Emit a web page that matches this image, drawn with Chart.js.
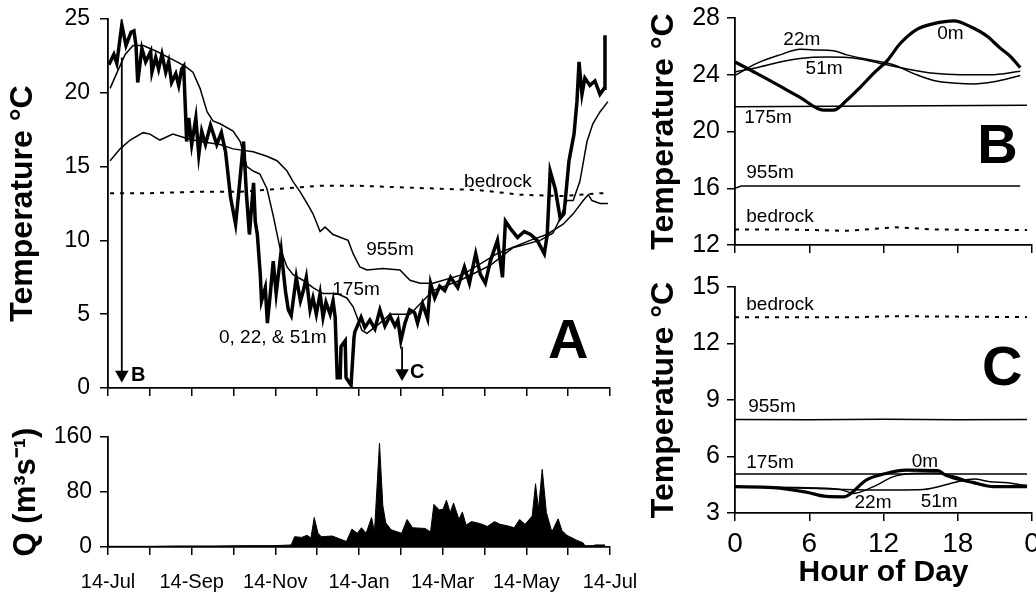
<!DOCTYPE html>
<html>
<head>
<meta charset="utf-8">
<script src="https://cdn.jsdelivr.net/npm/chart.js@4.4.1/dist/chart.umd.min.js"></script>
<style>
  body { margin: 0; background: #fff; width: 1036px; height: 597px; position: relative; overflow: hidden; }
  canvas { position: absolute; }
</style>
</head>
<body>
<canvas id="cA" width="640" height="400" style="left:0px;top:0px"></canvas>
<canvas id="cQ" width="640" height="177" style="left:0px;top:420px"></canvas>
<canvas id="cB" width="396" height="270" style="left:640px;top:0px"></canvas>
<canvas id="cC" width="396" height="327" style="left:640px;top:270px"></canvas>
<script>
// x in panel A and Q = months since 14-Jul
const dateLabels = ['14-Jul', '', '14-Sep', '', '14-Nov', '', '14-Jan', '', '14-Mar', '', '14-May', '', '14-Jul'];

// 0, 22 & 51m (thick line)
const shallowX = [0.02,0.14,0.21,0.33,0.43,0.55,0.62,0.67,0.71,0.81,0.90,1.02,1.05,1.14,1.21,1.29,1.38,1.45,1.52,1.62,1.69,1.76,1.81,1.88,1.93,2.00,2.10,2.17,2.24,2.33,2.45,2.52,2.60,2.71,2.81,2.93,3.05,3.12,3.24,3.31,3.38,3.43,3.48,3.52,3.57,3.64,3.67,3.76,3.81,3.88,3.95,4.02,4.14,4.24,4.31,4.38,4.50,4.60,4.67,4.74,4.83,4.90,4.98,5.07,5.14,5.21,5.31,5.38,5.43,5.48,5.55,5.57,5.67,5.69,5.81,5.88,5.90,6.05,6.14,6.26,6.38,6.50,6.62,6.74,6.86,6.93,7.00,7.10,7.21,7.33,7.40,7.52,7.64,7.71,7.81,7.93,8.05,8.19,8.36,8.52,8.64,8.79,8.90,9.02,9.14,9.31,9.43,9.50,9.62,9.79,9.95,10.10,10.26,10.43,10.50,10.57,10.69,10.81,10.90,11.02,11.14,11.21,11.26,11.33,11.40,11.52,11.64,11.76,11.86,11.88];
const shallowY = [21.9,22.6,22.0,24.6,23.2,24.1,24.2,23.2,20.7,23.0,22.1,22.8,21.4,22.4,21.6,22.6,21.4,22.1,20.7,21.3,20.5,21.6,21.8,16.7,18.3,16.5,18.3,15.8,17.4,16.5,17.8,17.2,16.5,17.3,16.0,12.9,11.1,13.1,16.7,13.1,10.4,12.2,13.9,11.3,10.4,7.7,5.9,6.8,4.4,6.4,8.6,6.4,9.3,6.6,5.3,4.9,7.5,5.9,6.6,7.5,5.3,6.1,5.0,6.4,4.8,5.8,5.0,5.9,4.8,0.7,0.7,2.8,3.2,0.7,0.2,3.4,3.8,4.8,4.1,4.6,4.0,5.3,4.2,4.9,4.2,4.6,3.2,4.4,5.3,5.1,4.4,5.7,4.7,7.1,6.1,6.9,6.6,7.5,6.8,8.2,7.1,9.1,7.7,7.1,8.6,10.0,7.5,11.3,10.8,10.2,10.6,10.4,10.0,9.1,10.4,14.7,13.5,11.5,11.8,15.4,17.2,19.4,22.1,19.9,21.0,20.5,20.8,19.9,20.3,23.9];

const m175X = [0.05,0.22,0.41,0.60,0.84,1.17,1.65,1.84,2.03,2.20,2.37,2.51,2.68,2.99,3.16,3.32,3.47,3.63,3.80,3.94,4.11,4.28,4.42,4.66,4.90,5.14,5.47,5.71,5.86,5.98,6.07,6.19,6.50,6.74,7.22,7.77,8.42,9.13,9.68,10.33,10.64,10.81,10.97,11.12,11.28,11.45,11.59,11.76,11.95];
const m175Y = [20.3,21.4,22.6,23.2,23.2,22.8,22.1,21.8,21.4,20.3,18.7,18.1,17.9,17.4,16.7,15.0,14.7,14.5,13.5,11.8,9.5,8.2,7.7,7.3,6.8,6.4,6.4,6.1,5.5,4.6,3.9,3.7,4.4,5.0,5.0,6.6,7.3,8.3,9.5,10.0,10.5,11.5,12.7,12.7,14.0,16.7,17.9,18.7,19.4];

const m955X = [0.05,0.29,0.53,0.84,1.00,1.24,1.55,1.89,2.20,2.68,2.99,3.47,3.80,4.04,4.28,4.42,4.59,4.76,4.90,5.07,5.19,5.38,5.74,5.86,6.02,6.19,6.57,6.98,7.22,7.46,7.77,8.49,9.30,10.09,10.49,10.88,11.12,11.36,11.48,11.57,11.76,11.95];
const m955Y = [15.4,16.2,16.8,17.3,17.2,16.8,17.2,16.9,16.7,16.5,16.2,16.0,15.7,15.4,14.7,14.0,13.3,12.5,11.8,10.6,10.9,10.4,10.0,9.1,8.2,8.0,8.1,8.0,7.3,7.1,7.1,7.7,9.1,10.0,10.4,11.1,11.8,12.7,13.1,12.7,12.5,12.5];

const bedX = [0.05,1.0,2.2,3.16,4.11,5.07,6.02,6.98,7.94,8.89,9.85,10.81,11.76,11.95];
const bedY = [13.2,13.2,13.3,13.3,13.5,13.7,13.7,13.6,13.5,13.4,13.1,13.0,13.2,13.2];

// arrows marking the days shown in B and C
const arrowBX = [0.33, 0.33], arrowBY = [22.4, 0.9];
const arrowCX = [7.03, 7.03], arrowCY = [2.8, 1.0];

// discharge
const qX = [0,1.0,1.7,2.5,3.3,3.99,4.38,4.46,4.63,4.76,4.85,4.93,5.02,5.10,5.36,5.53,5.70,5.83,5.96,6.06,6.17,6.30,6.37,6.49,6.57,6.64,6.77,7.02,7.15,7.28,7.58,7.71,7.79,7.92,8.01,8.09,8.18,8.26,8.39,8.47,8.56,8.69,8.90,9.07,9.24,9.37,9.54,9.71,9.84,9.97,10.14,10.22,10.29,10.38,10.48,10.61,10.76,10.85,10.97,11.2,11.36,11.40,11.6,11.64,11.88];
const qY = [1,1,1.5,1.5,2,2,3,15,14,17,13,43,20,15,16,12,8,26,20,28,20,43,22,151,60,35,25,20,40,28,27,22,62,54,55,68,50,64,40,51,32,37,34,30,37,33,31,28,40,33,45,92,55,113,50,22,41,24,17,10,6,2,2,3,3];

// B: diel cycle, summer (hour of day)
const b0X = [0,1.75,3.64,5.26,7.15,7.96,9.03,10.1,11.2,12.3,13.35,14.7,16.05,17.7,19.0,20.4,21.4,22.25,23.05];
const b0Y = [24.9,24.1,23.2,22.4,21.5,21.5,22.2,23.1,24.1,25.0,26.2,27.2,27.6,27.8,27.4,26.7,25.9,25.3,24.5];
const b22X = [0,1.75,3.64,5.26,6.34,7.96,9.03,11.2,12.8,14.4,16.05,17.9,19.3,20.9,23.05];
const b22Y = [23.95,24.8,25.4,25.8,25.75,25.7,25.4,25.0,24.7,24.1,23.6,23.4,23.35,23.5,23.95];
const b51X = [0,1.75,3.64,5.26,7.42,9.84,11.73,13.89,16.05,18.2,20.6,23.05];
const b51Y = [24.2,24.5,24.9,25.15,25.25,25.15,24.8,24.4,24.1,24.0,24.0,24.25];
const b175X = [0,12,23.6], b175Y = [21.75,21.8,21.85];
const b955X = [0,0.5,23.05], b955Y = [16.0,16.15,16.15];
const bBedX = [0,3.5,6.5,9,13,16,20,23.6], bBedY = [13.1,13.1,13.05,13.0,13.25,13.1,13.05,13.05];

// C: diel cycle, winter
const c0X = [0,3.1,5.8,7.4,8.8,10.6,12.2,13.8,16.4,17.0,19.3,20.9,23.6];
const c0Y = [4.4,4.35,4.1,3.88,3.86,4.75,5.1,5.28,5.25,5.02,4.61,4.4,4.4];
const c22X = [0,5,8.5,9.6,11.2,12.8,14.4,16.05,17.9,19.3,20.9,23.6];
const c22Y = [4.4,4.35,4.25,4.04,4.4,4.93,5.1,5.13,4.93,4.57,4.43,4.48];
const c51X = [0,5.8,11.2,15.2,17.9,19.3,20.6,22.0,23.6];
const c51Y = [4.4,4.31,4.22,4.25,4.65,4.8,4.66,4.6,4.45];
const c175X = [0,23.6], c175Y = [5.07,5.07];
const c955X = [0,6,12,18,23.6], c955Y = [7.97,7.95,7.98,7.95,7.97];
const cBedX = [0,10,13,23.6], cBedY = [13.4,13.4,13.45,13.4];

const FONT = '"Liberation Sans", Arial, Helvetica, sans-serif';
Chart.defaults.font.family = FONT;
Chart.defaults.color = '#000';

function pts(xs, ys) { return xs.map((x, i) => ({ x: x, y: ys[i] })); }

function line(xs, ys, w, extra) {
  return Object.assign({ data: pts(xs, ys), borderColor: '#000', backgroundColor: '#000', borderWidth: w,
    pointRadius: 0, fill: false, tension: 0 }, extra || {});
}
function arrow(xs, ys) {
  return line(xs, ys, 1.8, { pointRadius: [0, 6], pointStyle: 'triangle', rotation: 180,
    pointBackgroundColor: '#000', pointBorderColor: '#000' });
}

function axis(o) {
  return {
    type: 'linear', position: o.pos, min: o.min, max: o.max,
    ticks: { stepSize: o.step, autoSkip: false, maxRotation: 0, padding: o.pad, color: '#000',
      font: { size: o.size }, callback: o.cb || (v => v) },
    grid: { drawOnChartArea: false, drawTicks: true, tickLength: 8, color: '#000', lineWidth: 1.5 },
    border: { display: true, color: '#000', width: 1.8 },
    title: o.title ? { display: true, text: o.title, color: '#000', font: { size: o.tsize, weight: 'bold' }, padding: o.tpad }
                   : { display: false },
    afterFit: s => {
      if (o.pos === 'left') s.width = o.fit; else s.height = o.fit;
      s.paddingLeft = 0; s.paddingRight = 0; s.paddingTop = 0; s.paddingBottom = 0;
    }
  };
}

// free text labels drawn in data units
const notes = {
  id: 'notes',
  afterDatasetsDraw(chart, args, opts) {
    const ctx = chart.ctx, xs = chart.scales.x, ys = chart.scales.y;
    ctx.save();
    ctx.fillStyle = '#000';
    ctx.textAlign = 'center';
    ctx.textBaseline = 'middle';
    (opts.items || []).forEach(n => {
      ctx.font = (n.bold ? 'bold ' : '') + n.size + 'px ' + FONT;
      ctx.fillText(n.text, xs.getPixelForValue(n.x), ys.getPixelForValue(n.y));
    });
    ctx.restore();
  }
};

function base(pad, items) {
  return {
    responsive: false, animation: false, events: [],
    layout: { padding: pad },
    plugins: { legend: { display: false }, tooltip: { enabled: false }, notes: { items: items } }
  };
}

// ---- A
const optA = base({ top: 19, right: 30, left: 0, bottom: 0 }, [
  { text: '955m', x: 6.74, y: 9.35, size: 19 },
  { text: '175m', x: 5.93, y: 6.64, size: 19 },
  { text: '0, 22, & 51m', x: 3.94, y: 3.39, size: 19 },
  { text: 'bedrock', x: 9.32, y: 13.96, size: 19 },
  { text: 'A', x: 11.0, y: 3.05, size: 56, bold: true },
  { text: 'B', x: 0.72, y: 0.88, size: 20, bold: true },
  { text: 'C', x: 7.39, y: 1.08, size: 20, bold: true }
]);
optA.scales = {
  x: axis({ pos: 'bottom', min: 0, max: 12, step: 1, pad: 0, size: 12, fit: 12, cb: () => '' }),
  y: axis({ pos: 'left', min: 0, max: 25, step: 5, pad: 10, size: 23, fit: 108,
            title: 'Temperature °C', tsize: 32, tpad: { top: 4, bottom: 0 } })
};
new Chart(document.getElementById('cA'), {
  type: 'line',
  data: { datasets: [
    line(bedX, bedY, 2, { borderDash: [4, 6] }),
    line(m955X, m955Y, 1.5),
    line(m175X, m175Y, 1.5),
    line(shallowX, shallowY, 3.5),
    arrow(arrowBX, arrowBY),
    arrow(arrowCX, arrowCY)
  ] },
  options: optA,
  plugins: [notes]
});

// ---- Q
const optQ = base({ top: 17, right: 30, left: 0, bottom: 0 }, []);
optQ.scales = {
  x: axis({ pos: 'bottom', min: 0, max: 12, step: 1, pad: 15, size: 20, fit: 50,
            cb: v => dateLabels[Math.round(v)] }),
  y: axis({ pos: 'left', min: 0, max: 160, step: 80, pad: 8, size: 23, fit: 108,
            title: 'Q (m³s⁻¹)', tsize: 31, tpad: { top: 8, bottom: 0 } })
};
new Chart(document.getElementById('cQ'), {
  type: 'line',
  data: { datasets: [ line(qX, qY, 1, { fill: 'origin' }) ] },
  options: optQ,
  plugins: [notes]
});

// ---- B
const optB = base({ top: 18, right: 4, left: 0, bottom: 0 }, [
  { text: '22m', x: 5.4, y: 26.45, size: 19 },
  { text: '51m', x: 7.2, y: 24.4, size: 19 },
  { text: '0m', x: 17.4, y: 26.9, size: 19 },
  { text: '175m', x: 2.67, y: 20.95, size: 19 },
  { text: '955m', x: 2.83, y: 17.1, size: 19 },
  { text: 'bedrock', x: 3.64, y: 14.0, size: 19 },
  { text: 'B', x: 21.2, y: 18.9, size: 56, bold: true }
]);
optB.scales = {
  x: axis({ pos: 'bottom', min: 0, max: 24, step: 6, pad: 0, size: 12, fit: 25, cb: () => '' }),
  y: axis({ pos: 'left', min: 12, max: 28, step: 4, pad: 7, size: 25, fit: 95,
            title: 'Temperature °C', tsize: 32, tpad: { top: 5, bottom: 0 } })
};
new Chart(document.getElementById('cB'), {
  type: 'line',
  data: { datasets: [
    line(bBedX, bBedY, 2, { borderDash: [4, 6] }),
    line(b955X, b955Y, 1.5),
    line(b175X, b175Y, 1.5),
    line(b22X, b22Y, 1.5, { cubicInterpolationMode: 'monotone' }),
    line(b51X, b51Y, 1.5, { cubicInterpolationMode: 'monotone' }),
    line(b0X, b0Y, 3.2, { cubicInterpolationMode: 'monotone' })
  ] },
  options: optB,
  plugins: [notes]
});

// ---- C
const optC = base({ top: 17, right: 4, left: 0, bottom: 0 }, [
  { text: 'bedrock', x: 3.64, y: 14.04, size: 19 },
  { text: '955m', x: 2.99, y: 8.63, size: 19 },
  { text: '175m', x: 2.83, y: 5.65, size: 19 },
  { text: '0m', x: 15.35, y: 5.7, size: 19 },
  { text: '22m', x: 11.15, y: 3.52, size: 19 },
  { text: '51m', x: 16.5, y: 3.58, size: 19 },
  { text: 'C', x: 21.6, y: 10.6, size: 56, bold: true }
]);
optC.scales = {
  x: axis({ pos: 'bottom', min: 0, max: 24, step: 6, pad: 6, size: 28, fit: 84,
            cb: v => (v === 24 ? '0' : v), title: 'Hour of Day', tsize: 30, tpad: { top: 0, bottom: 6 } }),
  y: axis({ pos: 'left', min: 3, max: 15, step: 3, pad: 7, size: 25, fit: 95,
            title: 'Temperature °C', tsize: 32, tpad: { top: 5, bottom: 0 } })
};
new Chart(document.getElementById('cC'), {
  type: 'line',
  data: { datasets: [
    line(cBedX, cBedY, 2, { borderDash: [4, 6] }),
    line(c955X, c955Y, 1.5),
    line(c175X, c175Y, 1.5),
    line(c22X, c22Y, 1.5, { cubicInterpolationMode: 'monotone' }),
    line(c51X, c51Y, 1.5, { cubicInterpolationMode: 'monotone' }),
    line(c0X, c0Y, 3.2, { cubicInterpolationMode: 'monotone' })
  ] },
  options: optC,
  plugins: [notes]
});
</script>
</body>
</html>
